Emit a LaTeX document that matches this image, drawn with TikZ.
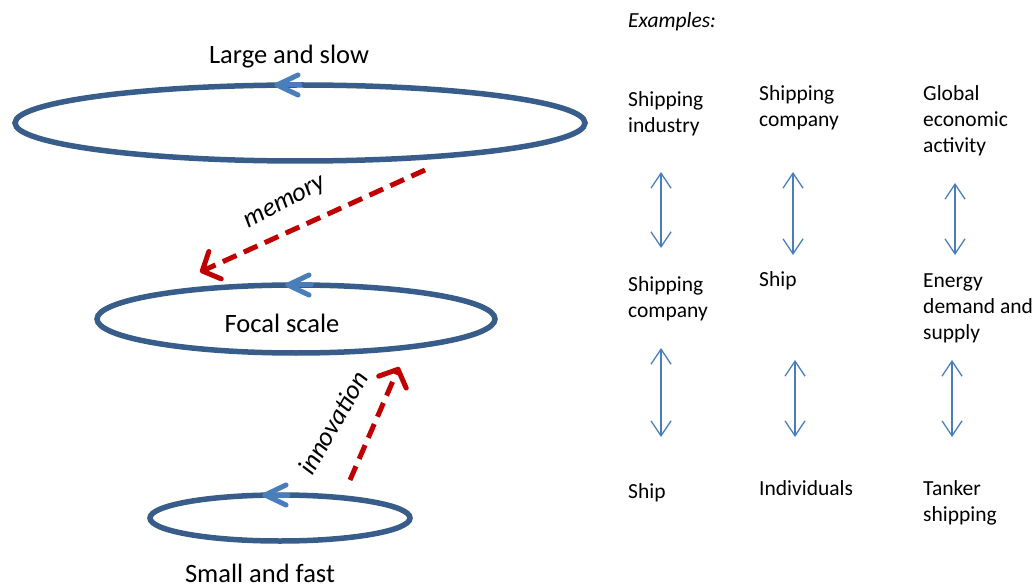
\documentclass[tikz,border=0pt]{standalone}
\usepackage{fontspec}
\setmainfont{Carlito}
\usepackage{xcolor}
\usetikzlibrary{shapes.geometric, arrows.meta, positioning}

\definecolor{ringblue}{HTML}{385D8A}
\definecolor{tipblue}{HTML}{4A7EBB}
\definecolor{linkred}{HTML}{C00000}

\begin{document}
\begin{tikzpicture}[x=1pt, y=-1pt,
		level/.style={ellipse, draw=ringblue, line width=5.5pt, inner sep=0pt},
		turn/.style={draw=tipblue, line width=5pt, line cap=round, line join=round},
		link/.style={draw=linkred, line width=5pt, dash pattern=on 15pt off 8pt,
			-{Straight Barb[length=14pt, width=30pt, line width=5pt, round]}},
		pair/.style={draw=tipblue, line width=1.3pt,
			{Straight Barb[length=15pt, width=20pt]}-{Straight Barb[length=15pt, width=20pt]}},
		big/.style={font=\fontsize{26.5}{30}\selectfont},
		example/.style={align=left, anchor=base west, inner sep=0pt, font=\fontsize{21.5}{26}\selectfont}]
			\useasboundingbox (0,0) rectangle (1033,585);

			\node [level, minimum width=570, minimum height=76] (large) at (300,123) {};
			\node [level, minimum width=398, minimum height=68] (focal) at (296,319) {};
			\node [level, minimum width=260, minimum height=46] (small) at (280,518) {};

			\node [big] (largelbl) at (289,57) {Large and slow};
			\node [big] (focallbl) at (282,323) {Focal scale};
			\node [big] (smalllbl) at (260,573) {Small and fast};

			\draw [turn] (300,85) -- (277,85);
			\draw [turn] (298,75) -- (277,85) -- (298,95);
			\draw [turn] (311,285) -- (288,285);
			\draw [turn] (309,275) -- (288,285) -- (309,295);
			\draw [turn] (288,495) -- (265,495);
			\draw [turn] (286,485) -- (265,495) -- (286,505);

			\coordinate (memfrom) at (425,170);
			\coordinate (memto) at (200,272);
			\coordinate (innofrom) at (350,480);
			\coordinate (innoto) at (399,367);
			\draw [link] (memfrom) -- (memto);
			\draw [link] (innofrom) -- (innoto);
			\node [big, rotate=28] (memory) at (286,204) {\itshape memory};
			\node [big, rotate=60] (innovation) at (333,423) {\itshape innovation};

			% base anchor sits on the last line
			\node [example] (examples) at (628,28) {\itshape Examples:};

			\node [example] (industry) at (628,133) {Shipping\\industry};
			\node [example] (company) at (628,317) {Shipping\\company};
			\node [example] (ship) at (628,498) {Ship};
			\node [example] (company2) at (759,127) {Shipping\\company};
			\node [example] (ship2) at (759,287) {Ship};
			\node [example] (individuals) at (759,495) {Individuals};
			\node [example] (global) at (923,153) {Global\\economic\\activity};
			\node [example] (energy) at (923,339) {Energy\\demand and\\supply};
			\node [example] (tanker) at (923,521) {Tanker\\shipping};

			\coordinate (c1a) at (661,172); \coordinate (c1b) at (661,248);
			\coordinate (c1c) at (661,348); \coordinate (c1d) at (661,437);
			\coordinate (c2a) at (793,172); \coordinate (c2b) at (793,255);
			\coordinate (c2c) at (795,360); \coordinate (c2d) at (795,437);
			\coordinate (c3a) at (955,183); \coordinate (c3b) at (955,255);
			\coordinate (c3c) at (952,360); \coordinate (c3d) at (952,437);
			\draw [pair] (c1a) -- (c1b);
			\draw [pair] (c1c) -- (c1d);
			\draw [pair] (c2a) -- (c2b);
			\draw [pair] (c2c) -- (c2d);
			\draw [pair] (c3a) -- (c3b);
			\draw [pair] (c3c) -- (c3d);
		\end{tikzpicture}
\end{document}
